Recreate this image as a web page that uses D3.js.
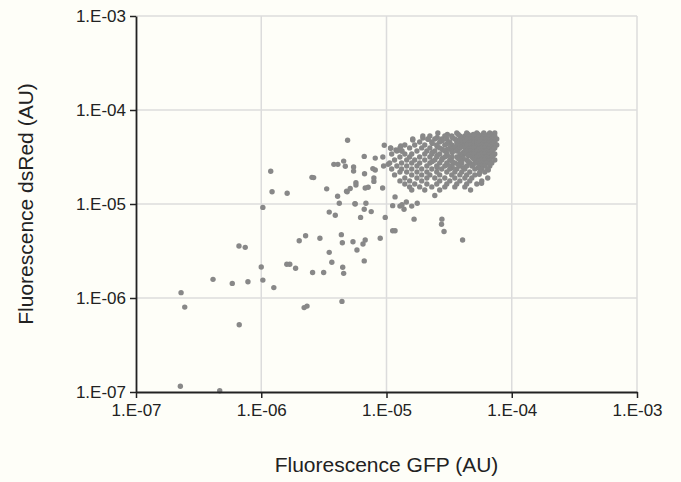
<!DOCTYPE html>
<html lang="en">
<head>
<meta charset="UTF-8">
<script src="https://d3js.org/d3.v7.min.js"></script>
<style>
  body { margin: 0; background: #fefef8; }
  text { font-family: "Liberation Sans", Arial, sans-serif; }
</style>
</head>
<body>
<div id="Area"></div>
<script>
// tick values and labels
const tickValues = [1e-7, 1e-6, 1e-5, 1e-4, 1e-3];
const tickLabels = ["1.E-07", "1.E-06", "1.E-05", "1.E-04", "1.E-03"];
const xTitle = "Fluorescence GFP (AU)";
const yTitle = "Fluorescence dsRed (AU)";

// scattered cells, [GFP, dsRed]
const sparseCells = [
  [2.26e-7, 1.15e-7], [4.66e-7, 1.03e-7], [2.29e-7, 1.14e-6], [2.45e-7, 8.0e-7],
  [4.12e-7, 1.58e-6], [5.87e-7, 1.43e-6], [7.83e-7, 1.49e-6], [6.67e-7, 5.2e-7],
  [6.64e-7, 3.57e-6], [7.45e-7, 3.46e-6], [1.00e-6, 2.14e-6], [1.03e-6, 1.55e-6],
  [1.26e-6, 1.29e-6], [1.03e-6, 9.2e-6], [1.22e-6, 1.35e-5], [1.61e-6, 1.30e-5],
  [1.60e-6, 2.29e-6], [1.69e-6, 2.29e-6], [1.88e-6, 2.07e-6], [2.01e-6, 4.07e-6],
  [2.26e-6, 4.60e-6], [2.20e-6, 7.9e-7], [2.32e-6, 8.2e-7], [2.57e-6, 1.87e-6],
  [2.94e-6, 4.32e-6], [3.15e-6, 1.87e-6], [3.49e-6, 3.06e-6], [3.66e-6, 2.40e-6],
  [3.49e-6, 8.2e-6], [3.90e-6, 7.6e-6], [4.07e-6, 1.21e-5], [4.20e-6, 1.02e-5],
  [4.36e-6, 4.72e-6], [4.44e-6, 3.87e-6], [4.47e-6, 2.12e-6], [4.55e-6, 1.83e-6],
  [4.41e-6, 9.2e-7], [4.85e-6, 1.35e-5], [5.40e-6, 3.97e-6], [5.62e-6, 1.00e-5],
  [5.81e-6, 3.24e-6], [6.21e-6, 7.2e-6], [6.49e-6, 3.75e-6], [6.64e-6, 2.48e-6],
  [6.76e-6, 4.14e-6], [6.85e-6, 1.02e-5], [6.64e-6, 8.8e-6], [7.55e-6, 8.3e-6],
  [8.91e-6, 4.32e-6], [9.77e-6, 7.2e-6], [1.12e-5, 9.6e-6], [1.17e-5, 1.19e-5],
  [1.12e-5, 5.20e-6], [1.17e-5, 5.20e-6], [1.28e-5, 9.5e-6],
  [4.89e-6, 4.76e-5], [1.19e-6, 2.23e-5], [2.54e-6, 1.92e-5], [2.62e-6, 1.91e-5],
  [3.33e-6, 1.45e-5], [3.80e-6, 2.64e-5], [4.09e-6, 2.64e-5], [4.55e-6, 2.86e-5],
  [4.69e-6, 2.52e-5], [4.80e-6, 1.37e-5], [5.13e-6, 1.46e-5], [5.46e-6, 2.48e-5],
  [5.46e-6, 2.24e-5], [5.70e-6, 1.69e-5], [5.70e-6, 1.59e-5], [6.64e-6, 3.21e-5],
  [6.68e-6, 2.10e-5], [6.76e-6, 1.48e-5], [7.14e-6, 1.51e-5], [5.60e-6, 1.01e-5],
  [8.13e-6, 3.08e-5], [9.35e-6, 3.16e-5], [9.60e-6, 4.21e-5], [7.78e-6, 2.38e-5],
  [8.13e-6, 2.30e-5], [7.93e-6, 1.89e-5], [7.93e-6, 1.74e-5], [9.48e-6, 2.54e-5],
  [1.03e-5, 2.64e-5], [9.31e-6, 1.48e-5],
  [1.33e-5, 9.8e-6], [1.38e-5, 8.8e-6], [1.44e-5, 1.05e-5], [1.59e-5, 9.5e-6],
  [1.76e-5, 1.02e-5], [1.66e-5, 6.9e-6], [2.43e-5, 1.23e-5], [2.77e-5, 6.9e-6],
  [2.75e-5, 6.1e-6], [2.88e-5, 5.1e-6], [4.05e-5, 4.14e-6], [4.69e-5, 1.41e-5],
  [5.74e-5, 1.66e-5], [5.50e-5, 2.07e-5], [6.49e-5, 2.30e-5],
  [1.08e-5, 3.92e-5], [1.19e-5, 3.75e-5], [1.30e-5, 4.14e-5], [1.33e-5, 3.66e-5],
  [1.62e-5, 4.80e-5], [1.95e-5, 5.04e-5], [2.15e-5, 4.88e-5]
];

// dense group of cells, one row per dsRed level: [dsRed, [GFP...]]
const clusterRows = [
  [5.69e-5, [2.57e-5, 3.64e-5, 4.37e-5, 5.26e-5, 5.98e-5, 6.68e-5, 7.32e-5]],
  [5.48e-5, [3.06e-5, 3.74e-5, 4.50e-5, 4.93e-5, 5.41e-5, 5.93e-5, 6.50e-5, 7.11e-5]],
  [5.28e-5, [1.95e-5, 2.22e-5, 2.92e-5, 3.32e-5, 3.85e-5, 4.22e-5, 4.62e-5, 5.07e-5, 5.56e-5, 6.09e-5, 6.68e-5, 7.32e-5]],
  [5.09e-5, [2.54e-5, 3.35e-5, 4.10e-5, 4.50e-5, 5.41e-5, 5.93e-5, 6.50e-5, 7.11e-5]],
  [4.91e-5, [1.62e-5, 2.14e-5, 2.43e-5, 2.76e-5, 3.03e-5, 3.51e-5, 3.99e-5, 4.37e-5, 4.80e-5, 5.26e-5, 5.76e-5, 6.32e-5, 6.93e-5, 7.59e-5]],
  [4.74e-5, [2.79e-5, 3.74e-5, 4.10e-5, 4.93e-5, 5.41e-5, 6.50e-5, 7.11e-5]],
  [4.57e-5, [1.84e-5, 2.30e-5, 2.66e-5, 3.20e-5, 3.64e-5, 3.85e-5, 4.22e-5, 4.62e-5, 5.07e-5, 5.56e-5, 6.09e-5, 6.68e-5, 7.32e-5]],
  [4.41e-5, [2.32e-5, 3.06e-5, 3.74e-5, 4.50e-5, 4.93e-5, 5.93e-5, 6.50e-5, 7.11e-5]],
  [4.25e-5, [1.40e-5, 1.68e-5, 2.02e-5, 2.52e-5, 2.92e-5, 3.32e-5, 3.64e-5, 3.99e-5, 4.37e-5, 4.80e-5, 5.26e-5, 5.76e-5, 6.32e-5, 6.93e-5, 7.59e-5]],
  [4.09e-5, [2.54e-5, 3.35e-5, 4.10e-5, 4.93e-5, 5.41e-5, 5.93e-5, 7.11e-5]],
  [3.95e-5, [1.08e-5, 1.28e-5, 1.53e-5, 1.91e-5, 2.22e-5, 2.66e-5, 3.20e-5, 3.51e-5, 3.85e-5, 4.22e-5, 4.62e-5, 5.07e-5, 5.56e-5, 6.09e-5, 6.68e-5, 7.32e-5]],
  [3.80e-5, [2.79e-5, 3.06e-5, 3.74e-5, 4.50e-5, 5.41e-5, 6.50e-5, 7.11e-5]],
  [3.66e-5, [1.21e-5, 1.32e-5, 1.75e-5, 2.10e-5, 2.43e-5, 2.92e-5, 3.32e-5, 3.64e-5, 4.37e-5, 4.80e-5, 5.26e-5, 5.76e-5, 6.32e-5, 6.93e-5]],
  [3.53e-5, [2.32e-5, 3.35e-5, 4.10e-5, 4.93e-5, 5.93e-5, 6.50e-5]],
  [3.40e-5, [1.10e-5, 1.40e-5, 1.59e-5, 2.02e-5, 2.30e-5, 2.66e-5, 3.03e-5, 3.85e-5, 4.22e-5, 4.62e-5, 5.07e-5, 5.56e-5, 6.09e-5, 6.68e-5, 7.32e-5]],
  [3.28e-5, [2.54e-5, 3.06e-5, 4.50e-5, 5.41e-5, 6.50e-5, 7.11e-5]],
  [3.16e-5, [1.28e-5, 1.53e-5, 1.84e-5, 2.22e-5, 2.52e-5, 2.92e-5, 3.32e-5, 3.64e-5, 3.99e-5, 4.80e-5, 5.26e-5, 5.76e-5, 6.32e-5, 6.93e-5]],
  [3.05e-5, [2.79e-5, 3.74e-5, 4.10e-5, 4.93e-5, 5.93e-5, 6.50e-5]],
  [2.94e-5, [1.16e-5, 1.45e-5, 1.68e-5, 2.02e-5, 2.43e-5, 2.76e-5, 3.20e-5, 3.85e-5, 4.37e-5, 5.07e-5, 5.56e-5, 6.09e-5, 6.68e-5, 7.32e-5]],
  [2.83e-5, [2.32e-5, 3.35e-5, 4.50e-5, 5.41e-5, 6.50e-5]],
  [2.73e-5, [1.06e-5, 1.32e-5, 1.59e-5, 1.84e-5, 2.22e-5, 2.66e-5, 3.03e-5, 3.51e-5, 3.99e-5, 4.62e-5, 5.26e-5, 5.76e-5, 6.32e-5, 6.93e-5]],
  [2.63e-5, [3.06e-5, 3.74e-5, 4.93e-5, 5.93e-5]],
  [2.54e-5, [1.21e-5, 1.45e-5, 1.75e-5, 2.10e-5, 2.52e-5, 2.92e-5, 3.32e-5, 3.85e-5, 4.37e-5, 4.80e-5, 5.56e-5, 6.09e-5, 6.68e-5]],
  [2.44e-5, [2.54e-5, 3.35e-5, 4.10e-5, 5.41e-5]],
  [2.36e-5, [1.10e-5, 1.32e-5, 1.59e-5, 1.91e-5, 2.30e-5, 2.76e-5, 3.20e-5, 3.64e-5, 4.22e-5, 5.07e-5, 5.76e-5, 6.43e-5]],
  [2.19e-5, [1.28e-5, 1.45e-5, 1.75e-5, 2.10e-5, 2.52e-5, 3.03e-5, 3.51e-5, 3.99e-5, 4.62e-5, 5.56e-5, 6.09e-5]],
  [2.04e-5, [1.16e-5, 1.59e-5, 1.91e-5, 2.22e-5, 2.66e-5, 3.32e-5, 3.85e-5, 4.37e-5, 5.07e-5]],
  [1.89e-5, [1.40e-5, 1.75e-5, 2.10e-5, 2.43e-5, 2.92e-5, 3.51e-5, 4.22e-5, 4.80e-5, 6.43e-5]],
  [1.76e-5, [1.28e-5, 1.53e-5, 1.91e-5, 2.66e-5, 3.20e-5, 3.85e-5, 4.62e-5, 5.76e-5]],
  [1.63e-5, [1.40e-5, 1.68e-5, 2.10e-5, 2.52e-5, 3.03e-5, 3.64e-5, 4.37e-5, 5.26e-5]],
  [1.52e-5, [1.53e-5, 1.84e-5, 2.30e-5, 2.92e-5, 3.51e-5, 4.22e-5]],
  [1.41e-5, [1.59e-5, 2.02e-5, 2.66e-5]]
];

const cells = sparseCells.concat(
  clusterRows.flatMap(([red, greens]) => greens.map(g => [g, red]))
);

const W = 681, H = 482;
const margin = {top: 16, right: 44, bottom: 90, left: 136};
const width = W - margin.left - margin.right;
const height = H - margin.top - margin.bottom;

const svg = d3.select("#Area")
  .append("svg")
    .attr("width", W)
    .attr("height", H)
    .style("background", "#fefef8");

const g = svg.append("g")
  .attr("transform", "translate(" + margin.left + "," + margin.top + ")");

const x = d3.scaleLog().domain([1e-7, 1e-3]).range([0, width]);
const y = d3.scaleLog().domain([1e-7, 1e-3]).range([height, 0]);

// gridlines
g.append("g")
  .selectAll("line")
  .data(tickValues.slice(1))
  .enter()
  .append("line")
    .attr("x1", d => x(d)).attr("x2", d => x(d))
    .attr("y1", 0).attr("y2", height)
    .attr("stroke", "#dcdcdc").attr("stroke-width", 1.5);

g.append("g")
  .selectAll("line")
  .data(tickValues.slice(1))
  .enter()
  .append("line")
    .attr("y1", d => y(d)).attr("y2", d => y(d))
    .attr("x1", 0).attr("x2", width)
    .attr("stroke", "#dcdcdc").attr("stroke-width", 1.5);

// points
g.append("g")
  .selectAll("circle")
  .data(cells)
  .enter()
  .append("circle")
    .attr("cx", d => x(d[0]))
    .attr("cy", d => y(d[1]))
    .attr("r", 2.7)
    .style("fill", "#888888");

// axes
const fmt = d => tickLabels[tickValues.indexOf(d)];
const xAxis = g.append("g")
  .attr("transform", "translate(0," + height + ")")
  .call(d3.axisBottom(x).tickValues(tickValues).tickFormat(fmt).tickSize(6).tickSizeOuter(0).tickPadding(6));
const yAxis = g.append("g")
  .call(d3.axisLeft(y).tickValues(tickValues).tickFormat(fmt).tickSize(6).tickSizeOuter(0).tickPadding(4));

[xAxis, yAxis].forEach(a => {
  a.select(".domain").attr("stroke", "#222").attr("stroke-width", 1.8);
  a.selectAll(".tick line").attr("stroke", "#222").attr("stroke-width", 1.5);
  a.selectAll(".tick text")
    .attr("fill", "#222")
    .style("font-size", "17px")
    .style("font-family", "'Liberation Sans', Arial, sans-serif");
});
yAxis.selectAll(".tick text").attr("dy", "0.35em");

// axis titles
svg.append("text")
  .attr("x", margin.left + width / 2)
  .attr("y", 472)
  .attr("text-anchor", "middle")
  .attr("fill", "#222")
  .style("font-size", "21px")
  .text(xTitle);

svg.append("text")
  .attr("transform", "translate(33," + (margin.top + height / 2) + ") rotate(-90)")
  .attr("text-anchor", "middle")
  .attr("fill", "#222")
  .style("font-size", "21px")
  .text(yTitle);
</script>
</body>
</html>
